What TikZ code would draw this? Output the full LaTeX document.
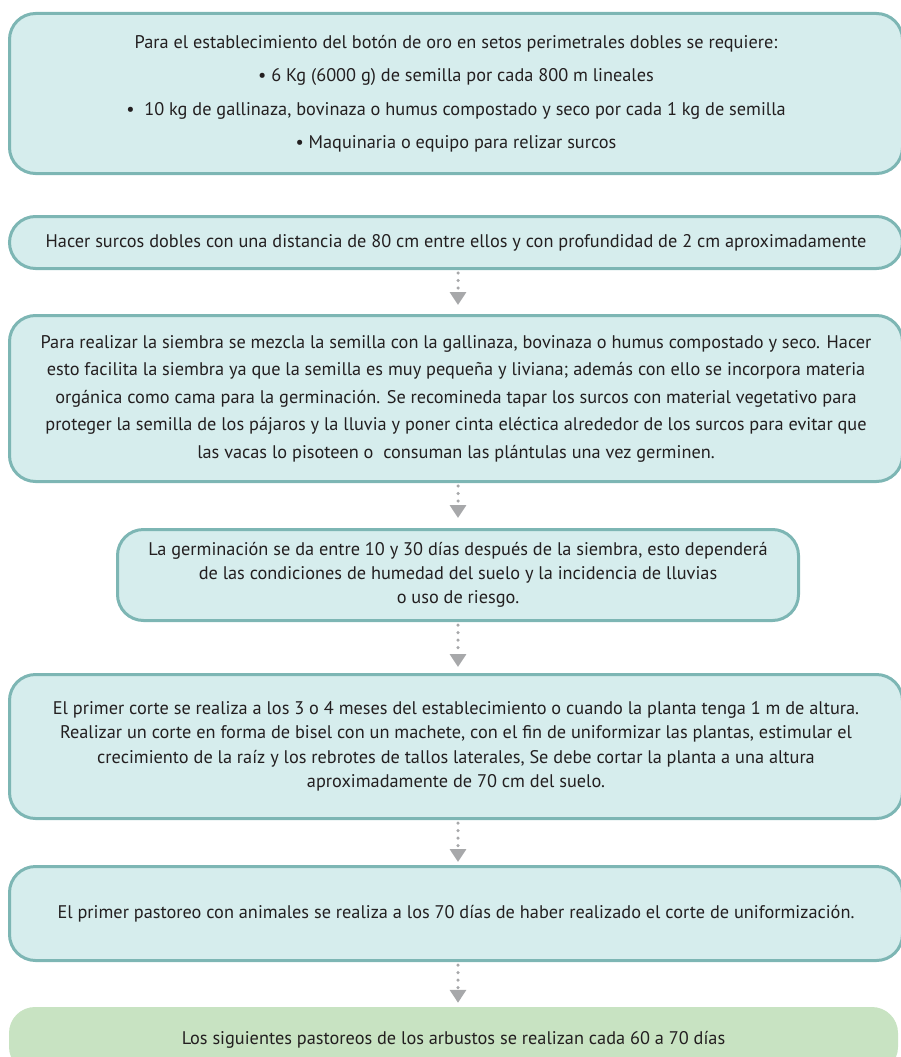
\documentclass[tikz,border=0pt]{standalone}
\usepackage{fontspec}
\setmainfont{PT Sans}
\usetikzlibrary{arrows.meta}
\definecolor{boxfill}{HTML}{D6EDED}
\definecolor{boxline}{HTML}{7DB6B4}
\definecolor{lastfill}{HTML}{C8E3C2}
\definecolor{arrowgray}{HTML}{A7A8AA}
\definecolor{txt}{HTML}{231F20}
\tikzset{
  stepbox/.style={draw=boxline, line width=3pt, fill=boxfill, rounded corners=26pt,
    align=center, text=txt, inner sep=0pt},
  lastbox/.style={fill=lastfill, rounded corners=26pt, align=center, text=txt, inner sep=0pt},
  flow/.style={arrowgray, line width=3.5pt, line cap=round, dash pattern=on 0pt off 7.5pt,
    -{Triangle[width=16pt,length=13pt]}, shorten <=3pt}
}
\begin{document}
\begin{tikzpicture}[x=1pt,y=-1pt]
  \useasboundingbox (0,0) rectangle (900,1057);
  \coordinate (axis) at (458,0);

  % requirements
  \node[stepbox, minimum width=893pt, minimum height=160pt,
    font=\fontsize{18.3}{33.5}\selectfont] (req) at (456,93.5)
    {Para el establecimiento del botón de oro en setos perimetrales dobles se requiere:\\
     • 6 Kg (6000 g) de semilla por cada 800 m lineales\\
     •~~10 kg de gallinaza, bovinaza o humus compostado y seco por cada 1 kg de semilla\\
     • Maquinaria o equipo para relizar surcos};

  % steps
  \node[stepbox, minimum width=893pt, minimum height=52pt,
    font=\fontsize{18.3}{24}\selectfont] (surcos) at (456,242.5)
    {Hacer surcos dobles con una distancia de 80 cm entre ellos y con profundidad de 2 cm aproximadamente};

  \node[stepbox, minimum width=893pt, minimum height=166pt,
    font=\fontsize{18.3}{27.5}\selectfont] (siembra) at (456,398.5)
    {Para realizar la siembra se mezcla la semilla con la gallinaza, bovinaza o humus compostado y seco. Hacer\\
     esto facilita la siembra ya que la semilla es muy pequeña y liviana; además con ello se incorpora materia\\
     orgánica como cama para la germinación. Se recomineda tapar los surcos con material vegetativo para\\
     proteger la semilla de los pájaros y la lluvia y poner cinta eléctica alrededor de los surcos para evitar que\\
     las vacas lo pisoteen o~~consuman las plántulas una vez germinen.};

  \node[stepbox, minimum width=681pt, minimum height=91pt,
    font=\fontsize{18.3}{24}\selectfont] (germ) at (458,575)
    {La germinación se da entre 10 y 30 días después de la siembra, esto dependerá\\
     de las condiciones de humedad del suelo y la incidencia de lluvias\\
     o uso de riesgo.};

  \node[stepbox, minimum width=893pt, minimum height=144pt,
    font=\fontsize{18.3}{24.5}\selectfont] (corte) at (456,746.5)
    {El primer corte se realiza a los 3 o 4 meses del establecimiento o cuando la planta tenga 1 m de altura.\\
     Realizar un corte en forma de bisel con un machete, con el fin de uniformizar las plantas, estimular el\\
     crecimiento de la raíz y los rebrotes de tallos laterales, Se debe cortar la planta a una altura\\
     aproximadamente de 70 cm del suelo.};

  \node[stepbox, minimum width=893pt, minimum height=94pt,
    font=\fontsize{18.3}{24}\selectfont] (pastoreo) at (456,913.5)
    {El primer pastoreo con animales se realiza a los 70 días de haber realizado el corte de uniformización.};

  \node[lastbox, minimum width=889pt, minimum height=66pt,
    font=\fontsize{18.3}{24}\selectfont] (siguientes) at (453.5,1040)
    {Los siguientes pastoreos de los arbustos se realizan cada 60 a 70 días};

  % dotted arrows
  \draw[flow, shorten >=9pt] (surcos.south -| axis) -- (siembra.north -| axis);
  \draw[flow, shorten >=10pt] (siembra.south -| axis) -- (germ.north -| axis);
  \draw[flow, shorten >=6pt] (germ.south -| axis) -- (corte.north -| axis);
  \draw[flow, shorten >=3pt] (corte.south -| axis) -- (pastoreo.north -| axis);
  \draw[flow, shorten >=4pt] (pastoreo.south -| axis) -- (siguientes.north -| axis);
\end{tikzpicture}
\end{document}
